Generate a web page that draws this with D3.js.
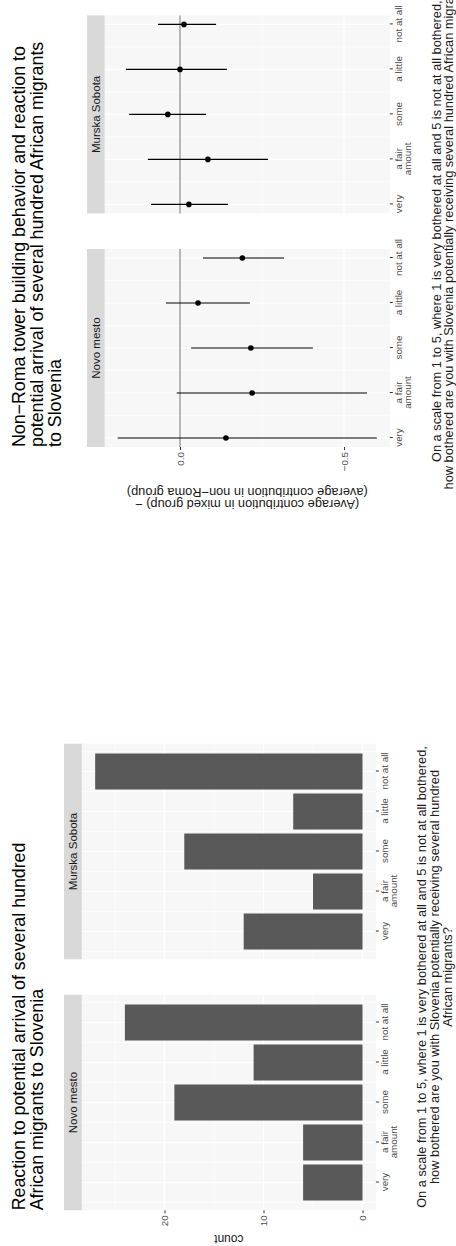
<!DOCTYPE html>
<html>
<head>
<meta charset="utf-8">
<script src="https://cdn.jsdelivr.net/npm/d3@7"></script>
<style>
  body { margin: 0; background: #ffffff; }
  svg { display: block; font-family: "Liberation Sans", Arial, Helvetica, sans-serif; }
</style>
</head>
<body>
<svg id="chart" width="456" height="1246"></svg>
<script>
// ---------- data ----------
const categories = ["very", "a fair amount", "some", "a little", "not at all"];
const categoryLines = [["very"], ["a fair", "amount"], ["some"], ["a little"], ["not at all"]];
const facets = ["Novo mesto", "Murska Sobota"];

// counts of answers per town
const countNovoMesto = [6, 6, 19, 11, 24];
const countMurskaSobota = [12, 5, 18, 7, 27];
const countTicks = [0, 10, 20];

// difference in average contribution (mixed minus non-Roma group), with interval
const diffNovoMesto = [-0.14, -0.22, -0.216, -0.055, -0.19];
const lowNovoMesto = [-0.60, -0.57, -0.405, -0.213, -0.317];
const highNovoMesto = [0.19, 0.01, -0.034, 0.043, -0.07];
const diffMurskaSobota = [-0.027, -0.085, 0.037, 0.0, -0.012];
const lowMurskaSobota = [-0.146, -0.268, -0.079, -0.143, -0.110];
const highMurskaSobota = [0.088, 0.098, 0.155, 0.165, 0.067];
const diffTicks = [-0.5, 0];

const titleBars = ["Reaction to potential arrival of several hundred", "African migrants to Slovenia"];
const titlePoints = ["Non\u2212Roma tower building behavior and reaction to",
                     "potential arrival of several hundred African migrants",
                     "to Slovenia"];
const captionBars = ["On a scale from 1 to 5, where 1 is very bothered at all and 5 is not at all bothered,",
                     "how bothered are you with Slovenia potentially receiving several hundred",
                     "African migrants?"];
const captionPoints = ["On a scale from 1 to 5, where 1 is very bothered at all and 5 is not at all bothered,",
                       "how bothered are you with Slovenia potentially receiving several hundred African migrants?"];
const yTitlePoints = ["(Average contribution in mixed group) \u2212", "(average contribution in non\u2212Roma group)"];

// ---------- style ----------
const PANEL_BG = "#F7F7F7";
const STRIP_BG = "#D9D9D9";
const BAR_FILL = "#595959";
const TICK_COL = "#333333";
const LABEL_COL = "#4D4D4D";
const TEXT_COL = "#1A1A1A";
const TITLE_SIZE = 17.8, AXIS_TITLE_SIZE = 12.8, STRIP_SIZE = 11.5, TICK_SIZE = 9.8;

// The figure is laid out landscape (1246 x 456) and turned a quarter turn.
const W = 1246;
const svg = d3.select("#chart");
const root = svg.append("g").attr("transform", `translate(0,${W}) rotate(-90)`);

function drawPanel(g, x, y, xMajor, xMinor, yMajor, yMinor) {
  const [x0, x1] = x.range();
  const [y1, y0] = y.range();
  g.append("rect").attr("x", x0).attr("y", y0).attr("width", x1 - x0).attr("height", y1 - y0).attr("fill", PANEL_BG);
  const grid = (vals, horiz, w) => g.append("g").selectAll("line").data(vals).join("line")
    .attr("x1", d => horiz ? x0 : x(d)).attr("x2", d => horiz ? x1 : x(d))
    .attr("y1", d => horiz ? y(d) : y0).attr("y2", d => horiz ? y(d) : y1)
    .attr("stroke", "#ffffff").attr("stroke-width", w);
  grid(yMinor, true, 0.6);
  grid(xMinor, false, 0.6);
  grid(yMajor, true, 1.2);
  grid(xMajor, false, 1.2);
}

function drawStrip(g, x, top, bottom, label) {
  const [x0, x1] = x.range();
  g.append("rect").attr("x", x0).attr("y", top).attr("width", x1 - x0).attr("height", bottom - top).attr("fill", STRIP_BG);
  g.append("text").attr("x", (x0 + x1) / 2).attr("y", (top + bottom) / 2).attr("dy", "0.35em")
    .attr("text-anchor", "middle").attr("font-size", STRIP_SIZE).attr("fill", TEXT_COL).text(label);
}

function drawXAxis(g, x, bottom) {
  const ax = g.append("g").attr("transform", `translate(0,${bottom})`)
    .call(d3.axisBottom(x).tickValues(d3.range(1, 6)).tickSize(3).tickPadding(2).tickFormat(""));
  ax.attr("font-family", null).attr("font-size", TICK_SIZE);
  ax.select(".domain").remove();
  ax.selectAll(".tick line").attr("stroke", TICK_COL);
  ax.selectAll(".tick text").attr("dy", null).attr("fill", LABEL_COL).each(function (d) {
    const t = d3.select(this);
    categoryLines[d - 1].forEach((s, i) => t.append("tspan").attr("x", 0).attr("dy", i ? "0.95em" : "0.71em").text(s));
  });
}

function drawYAxis(g, y, left, ticks, fmt) {
  const ax = g.append("g").attr("transform", `translate(${left},0)`)
    .call(d3.axisLeft(y).tickValues(ticks).tickSize(3).tickPadding(2).tickFormat(fmt));
  ax.attr("font-family", null).attr("font-size", TICK_SIZE);
  ax.select(".domain").remove();
  ax.selectAll(".tick line").attr("stroke", TICK_COL);
  ax.selectAll(".tick text").attr("fill", LABEL_COL);
}

function textLines(g, lines, x, y0, step, size, anchor, fill) {
  const t = g.append("text").attr("font-size", size).attr("fill", fill).attr("text-anchor", anchor);
  lines.forEach((s, i) => t.append("tspan").attr("x", x).attr("y", y0 + i * step).text(s));
  return t;
}

// ---------- bar chart: answer counts per town ----------
{
  const g = root.append("g");
  const panelW = 215.6;
  const lefts = [35.7, 286.7];
  const top = 81.8, bottom = 375.9;
  const cMax = d3.max(countNovoMesto.concat(countMurskaSobota));
  const y = d3.scaleLinear().domain([-0.05 * cMax, 1.05 * cMax]).range([bottom, top]);
  const xSpan = [0.55, 5.45];
  const pad = 0.05 * (xSpan[1] - xSpan[0]);
  const series = [countNovoMesto, countMurskaSobota];

  lefts.forEach((left, f) => {
    const x = d3.scaleLinear().domain([xSpan[0] - pad, xSpan[1] + pad]).range([left, left + panelW]);
    drawPanel(g, x, y, d3.range(1, 6), d3.range(0.5, 6, 1), countTicks, [5, 15, 25]);
    g.append("g").selectAll("rect").data(series[f]).join("rect")
      .attr("x", (d, i) => x(i + 1 - 0.45)).attr("width", (d, i) => x(i + 1 + 0.45) - x(i + 1 - 0.45))
      .attr("y", d => y(d)).attr("height", d => y(0) - y(d)).attr("fill", BAR_FILL);
    drawStrip(g, x, 64, top, facets[f]);
    drawXAxis(g, x, bottom);
    if (f === 0) drawYAxis(g, y, left, countTicks, d3.format("d"));
  });

  g.append("text").attr("transform", `translate(11.5,${(top + bottom) / 2}) rotate(-90)`)
    .attr("text-anchor", "middle").attr("font-size", 12).attr("fill", TEXT_COL).text("count");

  textLines(g, titleBars, lefts[0], 24.8, 18, TITLE_SIZE, "start", "#000000");
  const cx = (lefts[0] + lefts[1] + panelW) / 2;
  textLines(g, captionBars, cx, 426, 13, AXIS_TITLE_SIZE, "middle", TEXT_COL);
}

// ---------- point ranges: contribution gap per answer ----------
{
  const g = root.append("g");
  const panelW = 198;
  const lefts = [799, 1032.6];
  const top = 104.7, bottom = 389.8;
  const lows = lowNovoMesto.concat(lowMurskaSobota);
  const highs = highNovoMesto.concat(highMurskaSobota);
  const lo = d3.min(lows), hi = d3.max(highs);
  const ypad = 0.05 * (hi - lo);
  const y = d3.scaleLinear().domain([lo - ypad, hi + ypad]).range([bottom, top]);
  const series = [
    { mid: diffNovoMesto, low: lowNovoMesto, high: highNovoMesto },
    { mid: diffMurskaSobota, low: lowMurskaSobota, high: highMurskaSobota }
  ];

  lefts.forEach((left, f) => {
    const x = d3.scaleLinear().domain([0.8, 5.2]).range([left, left + panelW]);
    drawPanel(g, x, y, d3.range(1, 6), d3.range(1.5, 5, 1), diffTicks, [-0.25]);
    g.append("line").attr("x1", left).attr("x2", left + panelW).attr("y1", y(0)).attr("y2", y(0))
      .attr("stroke", "#7F7F7F").attr("stroke-width", 1.1);
    const s = series[f];
    const idx = d3.range(s.mid.length);
    g.append("g").selectAll("line").data(idx).join("line")
      .attr("x1", i => x(i + 1)).attr("x2", i => x(i + 1))
      .attr("y1", i => y(s.low[i])).attr("y2", i => y(s.high[i]))
      .attr("stroke", "#000000").attr("stroke-width", 1.1);
    g.append("g").selectAll("circle").data(idx).join("circle")
      .attr("cx", i => x(i + 1)).attr("cy", i => y(s.mid[i])).attr("r", 2.8).attr("fill", "#000000");
    drawStrip(g, x, 87, top, facets[f]);
    drawXAxis(g, x, bottom);
    if (f === 0) drawYAxis(g, y, left, diffTicks, d3.format(".1f"));
  });

  const yt = g.append("text").attr("transform", `translate(0,${(top + bottom) / 2}) rotate(-90)`)
    .attr("text-anchor", "middle").attr("font-size", AXIS_TITLE_SIZE).attr("fill", TEXT_COL);
  yt.append("tspan").attr("x", 0).attr("y", 746.5).text(yTitlePoints[0]);
  yt.append("tspan").attr("x", 0).attr("y", 758.5).text(yTitlePoints[1]);

  textLines(g, titlePoints, lefts[0], 24.8, 18, TITLE_SIZE, "start", "#000000");
  const cx = (lefts[0] + lefts[1] + panelW) / 2;
  textLines(g, captionPoints, cx, 441, 12, AXIS_TITLE_SIZE, "middle", TEXT_COL);
}
</script>
</body>
</html>
